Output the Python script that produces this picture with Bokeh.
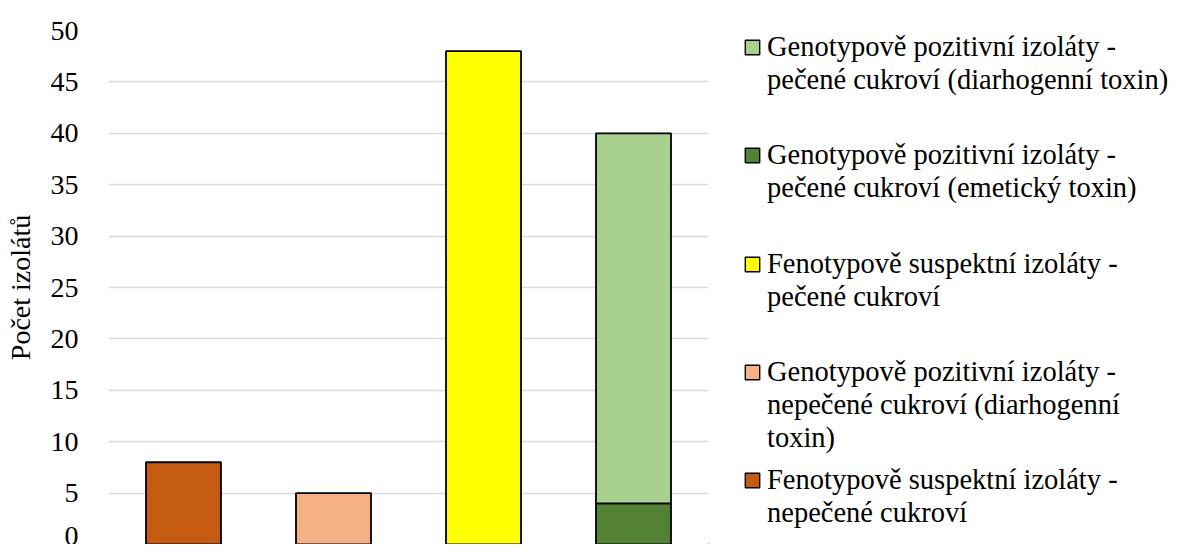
from bokeh.plotting import figure
from bokeh.layouts import row
from bokeh.models import (ColumnDataSource, FactorRange, Range1d, SingleIntervalTicker,
                          Legend, LegendItem)
from bokeh.embed import file_html
from bokeh.resources import INLINE

# ---- data ----
categories = ["nepečené – fenotyp", "nepečené – genotyp", "pečené – fenotyp", "pečené – genotyp"]

series_names = [
    "Fenotypově suspektní izoláty -\nnepečené cukroví",
    "Genotypově pozitivní izoláty -\nnepečené cukroví (diarhogenní\ntoxin)",
    "Fenotypově suspektní izoláty -\npečené cukroví",
    "Genotypově pozitivní izoláty -\npečené cukroví (emetický toxin)",
    "Genotypově pozitivní izoláty -\npečené cukroví (diarhogenní toxin)",
]
series_category = [0, 1, 2, 3, 3]
series_values = [8, 5, 48, 4, 36]
series_colors = ["#C55A11", "#F4B183", "#FFFF00", "#548235", "#A9D18E"]

legend_order = [4, 3, 2, 1, 0]   # top to bottom, as in the reference

y_ticks_interval = 5
y_max = 50
y_label = "Počet izolátů"

FONT = "Liberation Serif"
H = 544

p = figure(width=708, height=H, output_backend="svg", toolbar_location=None,
           x_range=FactorRange(factors=categories), y_range=Range1d(0, y_max),
           min_border_left=108, min_border_right=0, min_border_top=30, min_border_bottom=0)

# stack bars per category
base = {c: 0 for c in range(len(categories))}
for name, ci, v, col in zip(series_names, series_category, series_values, series_colors):
    bottom = base[ci]
    top = bottom + v
    base[ci] = top
    src = ColumnDataSource(dict(x=[categories[ci]], top=[top], bottom=[bottom]))
    p.vbar(x="x", top="top", bottom="bottom", width=0.5, source=src,
           fill_color=col, line_color="black", line_width=1.8)

p.xaxis.visible = False
p.xgrid.visible = False
p.outline_line_color = None
p.ygrid.grid_line_color = "#D9D9D9"
p.ygrid.grid_line_width = 1.5

ax = p.yaxis[0]
ax.ticker = SingleIntervalTicker(interval=y_ticks_interval)
ax.axis_line_color = None
ax.major_tick_line_color = None
ax.minor_tick_line_color = None
ax.major_tick_out = 0
ax.major_tick_in = 0
ax.major_label_standoff = 26
ax.major_label_text_font = FONT
ax.major_label_text_font_size = "28px"
ax.major_label_text_color = "black"
ax.axis_label = y_label
ax.axis_label_text_font = FONT
ax.axis_label_text_font_size = "28px"
ax.axis_label_text_font_style = "normal"
ax.axis_label_text_color = "black"
ax.axis_label_standoff = 12

# ---- legend panel (separate figure so the legend is not clipped) ----
LW = 464
q = figure(width=LW, height=H, output_backend="svg", toolbar_location=None,
           x_range=Range1d(0, 1), y_range=Range1d(0, 1),
           x_axis_location=None, y_axis_location=None,
           min_border_left=0, min_border_right=0, min_border_top=0, min_border_bottom=0)
q.grid.visible = False
q.outline_line_color = None

# swatch holders for the legend only (one row each, placed outside the visible range)
swatch = {}
for i, col in enumerate(series_colors):
    swatch[i] = q.vbar(x=[-5], top=[-5], bottom=[-6], width=0.1, fill_color=col,
                       line_color="black", line_width=1.4)
blank = q.vbar(x=[-5], top=[-5], bottom=[-6], width=0.1, fill_alpha=0, line_alpha=0)

LINE = 33
first_line_centers = [47, 155, 264, 372, 480]   # pixel rows of the entries (layout)
for i, cy in zip(legend_order, first_line_centers):
    lines = series_names[i].split("\n")
    items = [LegendItem(label=lines[0], renderers=[swatch[i]])]
    items += [LegendItem(label=t, renderers=[blank]) for t in lines[1:]]
    top_px = cy - LINE / 2
    bottom_px = top_px + LINE * len(lines)
    lg = Legend(items=items, location=(35, H - bottom_px), spacing=0, padding=0, margin=0,
                border_line_color=None, background_fill_alpha=0,
                label_text_font=FONT, label_text_font_size="28.5px",
                label_text_color="black",
                glyph_width=18, glyph_height=18, label_standoff=6,
                label_height=LINE)
    q.add_layout(lg, "center")

open("out.html", "w").write(file_html(row(p, q), INLINE))
